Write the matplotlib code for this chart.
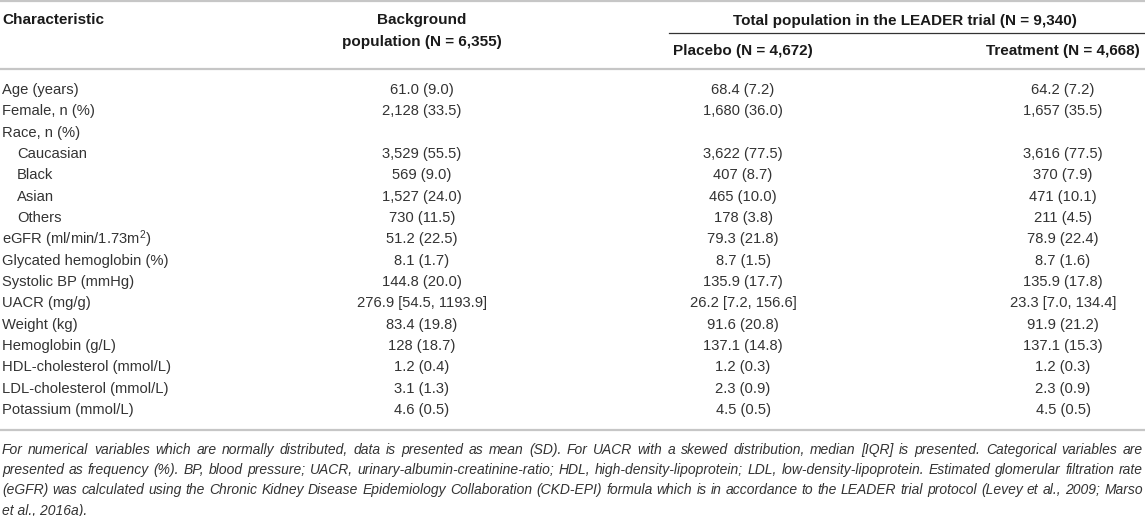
import matplotlib
matplotlib.use("Agg")
import matplotlib.pyplot as plt

plt.rcParams['font.family'] = ['Liberation Sans', 'DejaVu Sans']
plt.rcParams['mathtext.fontset'] = 'custom'
plt.rcParams['mathtext.rm'] = 'Liberation Sans'
plt.rcParams['mathtext.it'] = 'Liberation Sans:italic'

# table content
characteristics = [
    "Age (years)", "Female, n (%)", "Race, n (%)", "Caucasian", "Black", "Asian",
    "Others", "eGFR (ml/min/1.73m$^2$)", "Glycated hemoglobin (%)",
    "Systolic BP (mmHg)", "UACR (mg/g)", "Weight (kg)", "Hemoglobin (g/L)",
    "HDL-cholesterol (mmol/L)", "LDL-cholesterol (mmol/L)", "Potassium (mmol/L)",
]
indented = ["Caucasian", "Black", "Asian", "Others"]
background = [
    "61.0 (9.0)", "2,128 (33.5)", "", "3,529 (55.5)", "569 (9.0)", "1,527 (24.0)",
    "730 (11.5)", "51.2 (22.5)", "8.1 (1.7)", "144.8 (20.0)",
    "276.9 [54.5, 1193.9]", "83.4 (19.8)", "128 (18.7)", "1.2 (0.4)",
    "3.1 (1.3)", "4.6 (0.5)",
]
placebo = [
    "68.4 (7.2)", "1,680 (36.0)", "", "3,622 (77.5)", "407 (8.7)", "465 (10.0)",
    "178 (3.8)", "79.3 (21.8)", "8.7 (1.5)", "135.9 (17.7)",
    "26.2 [7.2, 156.6]", "91.6 (20.8)", "137.1 (14.8)", "1.2 (0.3)",
    "2.3 (0.9)", "4.5 (0.5)",
]
treatment = [
    "64.2 (7.2)", "1,657 (35.5)", "", "3,616 (77.5)", "370 (7.9)", "471 (10.1)",
    "211 (4.5)", "78.9 (22.4)", "8.7 (1.6)", "135.9 (17.8)",
    "23.3 [7.0, 134.4]", "91.9 (21.2)", "137.1 (15.3)", "1.2 (0.3)",
    "2.3 (0.9)", "4.5 (0.5)",
]
footnote = [
    "For numerical variables which are normally distributed, data is presented as mean (SD). "
    "For UACR with a skewed distribution, median [IQR] is presented. Categorical variables are",
    "presented as frequency (%). BP, blood pressure; UACR, urinary-albumin-creatinine-ratio; "
    "HDL, high-density-lipoprotein; LDL, low-density-lipoprotein. Estimated glomerular filtration rate",
    "(eGFR) was calculated using the Chronic Kidney Disease Epidemiology Collaboration (CKD-EPI) "
    "formula which is in accordance to the LEADER trial protocol (Levey et al., 2009; Marso",
    "et al., 2016a).",
]

W, H = 1145, 516
fig = plt.figure(figsize=(W / 100, H / 100), dpi=100)
ax = fig.add_axes([0, 0, 1, 1])
ax.set_xlim(0, W)
ax.set_ylim(H, 0)
ax.axis('off')

body = dict(fontsize=10.6, color='#333333')
head = dict(fontsize=11.0, color='#1a1a1a', fontweight='bold')
grey = '#c6c6c6'

col_x = [422, 743, 1063]

# rules
ax.plot([0, W], [1, 1], color=grey, lw=1.6)
ax.plot([0, W], [69, 69], color=grey, lw=1.6)
ax.plot([669, W], [33, 33], color='#333333', lw=0.9)
ax.plot([0, W], [430, 430], color=grey, lw=1.6)

# header
ax.text(2, 20, "Characteristic", ha='left', va='center', **head)
ax.text(col_x[0], 20, "Background", ha='center', va='center', **head)
ax.text(col_x[0], 42, "population (N = 6,355)", ha='center', va='center', **head)
ax.text(905, 21, "Total population in the LEADER trial (N = 9,340)",
        ha='center', va='center', **head)
ax.text(col_x[1], 51, "Placebo (N = 4,672)", ha='center', va='center', **head)
ax.text(col_x[2], 51, "Treatment (N = 4,668)", ha='center', va='center', **head)

# rows
y0, dy = 90, 21.33
for i, name in enumerate(characteristics):
    y = y0 + i * dy
    xl = 17 if name in indented else 2
    ax.text(xl, y, name, ha='left', va='center', **body)
    for cx, vals in zip(col_x, [background, placebo, treatment]):
        ax.text(cx, y, vals[i], ha='center', va='center', **body)

# justified italic footnote
fig.canvas.draw()
renderer = fig.canvas.get_renderer()
left, right = 2, 1143
fy0, fdy = 450, 20.2


def text_width(s, size):
    t = ax.text(0, 0, s, fontsize=size, style='italic')
    bb = t.get_window_extent(renderer)
    t.remove()
    return bb.width


# pick the size where the widest full line nearly fills the width
base = 10.0
widest = max(text_width(s, base) for s in footnote[:-1])
fsize = base * (right - left - 6) / widest
foot = dict(fontsize=fsize, color='#333333', style='italic')

for k, line in enumerate(footnote):
    y = fy0 + k * fdy
    if k == len(footnote) - 1:
        ax.text(left, y, line, ha='left', va='center', **foot)
        continue
    words = line.split(" ")
    widths = [text_width(w, fsize) for w in words]
    gap = (right - left - sum(widths)) / (len(words) - 1)
    x = left
    for w, ww in zip(words, widths):
        ax.text(x, y, w, ha='left', va='center', **foot)
        x += ww + gap

fig.savefig("out.png", dpi=100)
